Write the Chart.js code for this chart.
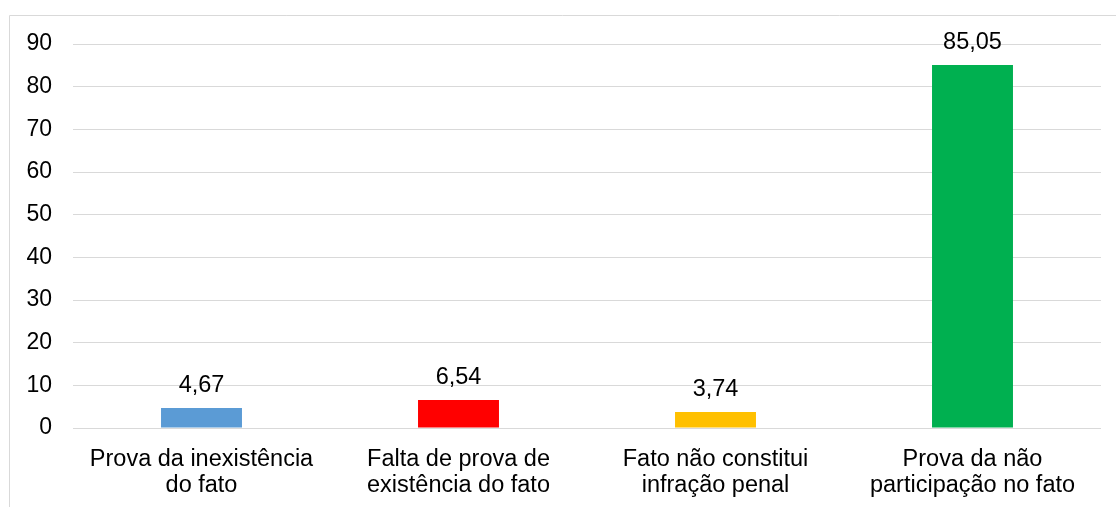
<!DOCTYPE html>
<html><head><meta charset="utf-8">
<script src="https://cdn.jsdelivr.net/npm/chart.js@4/dist/chart.umd.min.js"></script>
<style>html,body{margin:0;padding:0;background:#fff;}#wrap{width:1116px;height:507px;position:relative;}</style>
</head><body><div id="wrap"><canvas id="c" width="1116" height="507"></canvas></div>
<script>
const categories = [["Prova da inexistência","do fato"],["Falta de prova de","existência do fato"],["Fato não constitui","infração penal"],["Prova da não","participação no fato"]];
const values = [4.67, 6.54, 3.74, 85.05];
const valueLabels = ["4,67","6,54","3,74","85,05"];
const colors = ["#5B9BD5","#FF0000","#FFC000","#00B050"];
const yTicks = [0,10,20,30,40,50,60,70,80,90];

const FONT = "'Liberation Sans', Arial, sans-serif";

const frame = {
  id:'frame',
  beforeDraw(chart){
    const ctx = chart.ctx;
    ctx.save();
    ctx.strokeStyle = '#d9d9d9';
    ctx.lineWidth = 1;
    ctx.beginPath();
    ctx.moveTo(9.5, 507);
    ctx.lineTo(9.5, 15.5);
    ctx.lineTo(1116, 15.5);
    ctx.stroke();
    ctx.restore();
  }
};
const dataLabels = {
  id:'dataLabels',
  afterDatasetsDraw(chart){
    const ctx = chart.ctx;
    const meta = chart.getDatasetMeta(0);
    ctx.save();
    ctx.font = "23.5px " + FONT;
    ctx.fillStyle = '#000';
    ctx.textAlign = 'center';
    ctx.textBaseline = 'alphabetic';
    meta.data.forEach((bar,i)=>{
      ctx.fillText(valueLabels[i], bar.x, bar.y - 16);
    });
    ctx.restore();
  }
};

new Chart(document.getElementById('c'), {
  type:'bar',
  data:{
    labels: categories,
    datasets:[{data: values, backgroundColor: colors, borderWidth:0, barPercentage:0.315, categoryPercentage:1}]
  },
  options:{
    responsive:false,
    animation:false,
    devicePixelRatio:1,
    layout:{padding:{top:44,right:15,left:0,bottom:0}},
    plugins:{legend:{display:false},tooltip:{enabled:false}},
    scales:{
      x:{
        grid:{display:false, drawTicks:false},
        border:{display:false},
        ticks:{color:'#000', font:{family:FONT,size:23.5,lineHeight:1.12}, padding:18, maxRotation:0, autoSkip:false},
        afterFit(s){ s.height = 79; }
      },
      y:{
        min:0,max:90,
        afterBuildTicks(s){ s.ticks = yTicks.map(v=>({value:v})); },
        grid:{color:'#d9d9d9', lineWidth:1, drawTicks:false},
        border:{display:false},
        ticks:{color:'#000', font:{family:FONT,size:23}, padding:21},
        afterFit(s){ s.width = 73; }
      }
    }
  },
  plugins:[frame,dataLabels]
});
</script></body></html>
